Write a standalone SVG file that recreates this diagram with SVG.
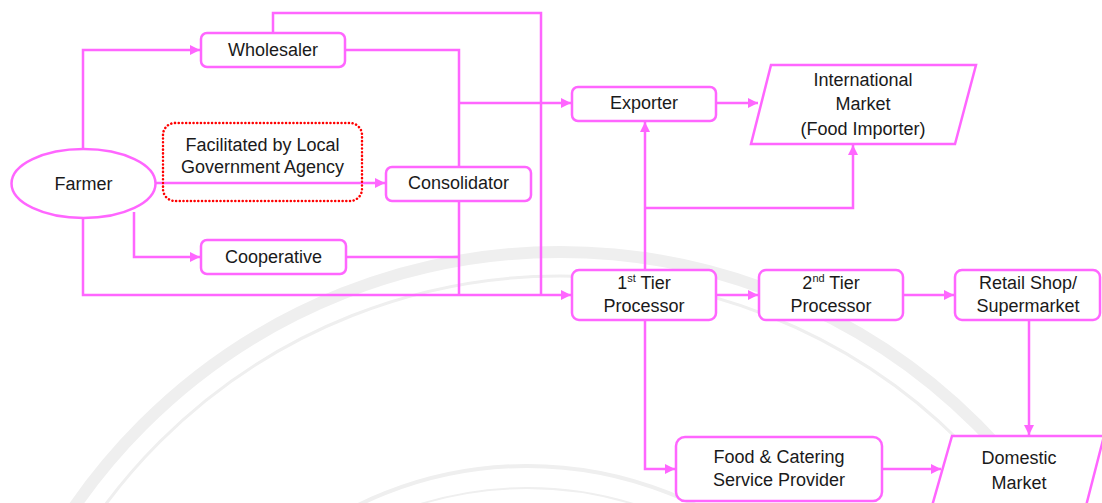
<svg xmlns="http://www.w3.org/2000/svg" width="1102" height="503" viewBox="0 0 1102 503">
  <defs>
    <marker id="arrow" viewBox="0 0 10 10" refX="10" refY="5" markerWidth="4" markerHeight="4" orient="auto" markerUnits="strokeWidth">
      <path d="M0,0 L10,5 L0,10 z" fill="#ff66ff"/>
    </marker>
    <style>
      .box { fill: #ffffff; stroke: #ff66ff; stroke-width: 2.5; }
      .wire { fill: none; stroke: #ff66ff; stroke-width: 2.5; }
      .arr { marker-end: url(#arrow); }
      .note { fill: none; stroke: #ff0000; stroke-width: 2.5; stroke-dasharray: 0.1 3.6; stroke-linecap: round; }
      .lbl { font-family: "Liberation Sans", Arial, sans-serif; font-size: 18px; fill: #1a1a1a; text-anchor: middle; }
      .sup { font-size: 11px; }
      .mark { fill: none; stroke: #efefef; }
    </style>
  </defs>

  <rect width="1102" height="503" fill="#ffffff"/>

  <!-- faint background seal -->
  <g id="seal">
    <circle class="mark" cx="560" cy="842" r="590" stroke-width="12"/>
    <circle class="mark" cx="560" cy="842" r="566" stroke-width="3"/>
    <circle class="mark" cx="527" cy="850" r="384" stroke-width="4"/>
    <circle class="mark" cx="527" cy="850" r="362" stroke-width="2"/>
  </g>

  <g id="connectors">
    <!-- Farmer to Wholesaler -->
    <path class="wire arr" d="M83,149 V50 H200"/>
    <!-- Farmer to Consolidator -->
    <path class="wire arr" d="M155,183 H385"/>
    <!-- Farmer to Cooperative -->
    <path class="wire arr" d="M134,212 V257 H200"/>
    <!-- Farmer to 1st Tier Processor -->
    <path class="wire arr" d="M83,218 V295 H571"/>
    <!-- Wholesaler top route -->
    <path class="wire" d="M273,33 V13 H541 V295"/>
    <!-- Wholesaler right into collector -->
    <path class="wire" d="M345,50 H459 V295"/>
    <!-- Cooperative into collector -->
    <path class="wire" d="M346,257 H459"/>
    <!-- collector to Exporter -->
    <path class="wire arr" d="M459,103 H571"/>
    <!-- Exporter to International Market -->
    <path class="wire arr" d="M716,103 H758"/>
    <!-- 1st Tier up to Exporter -->
    <path class="wire arr" d="M645,270 V122"/>
    <!-- branch to International Market -->
    <path class="wire arr" d="M645,208 H853 V145"/>
    <!-- 1st Tier to 2nd Tier -->
    <path class="wire arr" d="M716,295 H758"/>
    <!-- 2nd Tier to Retail -->
    <path class="wire arr" d="M903,295 H954"/>
    <!-- Retail to Domestic Market -->
    <path class="wire arr" d="M1029,320 V435"/>
    <!-- 1st Tier down to Food & Catering -->
    <path class="wire arr" d="M645,320 V469 H675"/>
    <!-- Food & Catering to Domestic Market -->
    <path class="wire arr" d="M882,469 H941"/>
  </g>

  <g id="farmer">
    <ellipse class="box" cx="83.5" cy="183.5" rx="72" ry="34.5"/>
    <text class="lbl" x="83.5" y="190">Farmer</text>
  </g>

  <g id="wholesaler">
    <rect class="box" x="201" y="33" width="144" height="34" rx="6"/>
    <text class="lbl" x="273" y="56">Wholesaler</text>
  </g>

  <g id="agency-note">
    <rect class="note" x="163" y="123" width="199" height="78" rx="12"/>
    <text class="lbl" x="262.5" y="151">Facilitated by Local</text>
    <text class="lbl" x="262.5" y="173">Government Agency</text>
  </g>

  <g id="consolidator">
    <rect class="box" x="386" y="167" width="145" height="34" rx="6"/>
    <text class="lbl" x="458.5" y="189">Consolidator</text>
  </g>

  <g id="cooperative">
    <rect class="box" x="201" y="240" width="145" height="34" rx="6"/>
    <text class="lbl" x="273.5" y="263">Cooperative</text>
  </g>

  <g id="exporter">
    <rect class="box" x="572" y="87" width="144" height="34" rx="6"/>
    <text class="lbl" x="644" y="109">Exporter</text>
  </g>

  <g id="international-market">
    <polygon class="box" points="771,65 976,65 955,144 751,144"/>
    <text class="lbl" x="863" y="86">International</text>
    <text class="lbl" x="863" y="110">Market</text>
    <text class="lbl" x="863" y="135">(Food Importer)</text>
  </g>

  <g id="tier1">
    <rect class="box" x="572" y="270" width="144" height="50" rx="7"/>
    <text class="lbl" x="644" y="289">1<tspan class="sup" dy="-7">st</tspan><tspan dy="7"> Tier</tspan></text>
    <text class="lbl" x="644" y="312">Processor</text>
  </g>

  <g id="tier2">
    <rect class="box" x="759" y="270" width="144" height="50" rx="7"/>
    <text class="lbl" x="831" y="289">2<tspan class="sup" dy="-7">nd</tspan><tspan dy="7"> Tier</tspan></text>
    <text class="lbl" x="831" y="312">Processor</text>
  </g>

  <g id="retail">
    <rect class="box" x="955" y="270" width="145" height="50" rx="7"/>
    <text class="lbl" x="1028" y="289">Retail Shop/</text>
    <text class="lbl" x="1028" y="312">Supermarket</text>
  </g>

  <g id="food-catering">
    <rect class="box" x="676" y="437" width="206" height="64" rx="9"/>
    <text class="lbl" x="779" y="463">Food &amp; Catering</text>
    <text class="lbl" x="779" y="486">Service Provider</text>
  </g>

  <g id="domestic-market">
    <polygon class="box" points="952,436 1104,436 1086,506 932,506"/>
    <text class="lbl" x="1019" y="464">Domestic</text>
    <text class="lbl" x="1019" y="489">Market</text>
  </g>
</svg>
